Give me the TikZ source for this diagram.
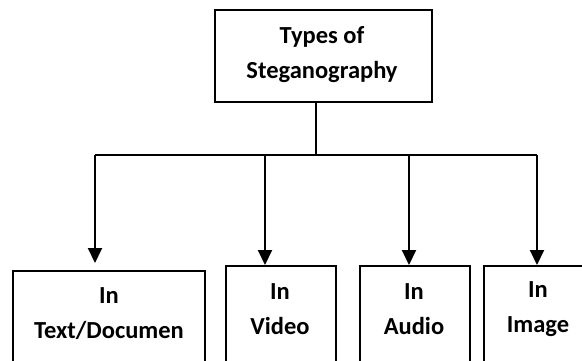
\documentclass[tikz,border=0pt]{standalone}
\usepackage{fontspec}
\setmainfont{Carlito}
\usetikzlibrary{arrows.meta}
\begin{document}
\begin{tikzpicture}[x=1pt,y=-1pt,
  box/.style={draw,line width=2pt,inner sep=0pt,anchor=north west},
  lbl/.style={font=\fontsize{24.5}{35}\selectfont\bfseries,align=center,inner sep=0pt},
  link/.style={line width=2pt},
  down/.style={line width=2pt,-{Triangle[width=14pt,length=15pt]}}]
\useasboundingbox (0,0) rectangle (582,360);
\clip (0,0) rectangle (582,360);

% root box
\node[box,minimum width=217pt,minimum height=92pt] (root) at (214,9) {};
\node[lbl] at (322,55) {Types of\\Steganography};

% leaf boxes (run past the lower edge)
\node[box,minimum width=192pt,minimum height=120pt] (textdoc) at (12,270) {};
\node[box,minimum width=110pt,minimum height=120pt] (video) at (225,265) {};
\node[box,minimum width=110pt,minimum height=120pt] (audio) at (359,265) {};
\node[box,minimum width=120pt,minimum height=120pt] (image) at (483,265) {};

\node[lbl] at (109,314) {In\\Text/Documen};
\node[lbl] at (280,309) {In\\Video};
\node[lbl] at (414,309) {In\\Audio};
\node[lbl] at (538,309) {In\\Image};

% trunk and bus
\coordinate (split) at (316,155);
\coordinate (b1) at (95,155);
\coordinate (b2) at (265,155);
\coordinate (b3) at (409,155);
\coordinate (b4) at (537,155);

\draw[line width=1.5pt] (split |- root.south) -- (split);
\draw[link] (b1) -- (b4);

\draw[down] (b1) -- ([yshift=7pt]b1 |- textdoc.north);
\draw[down] (b2) -- (b2 |- video.north);
\draw[down] (b3) -- (b3 |- audio.north);
\draw[down] (b4) -- (b4 |- image.north);
\end{tikzpicture}
\end{document}
